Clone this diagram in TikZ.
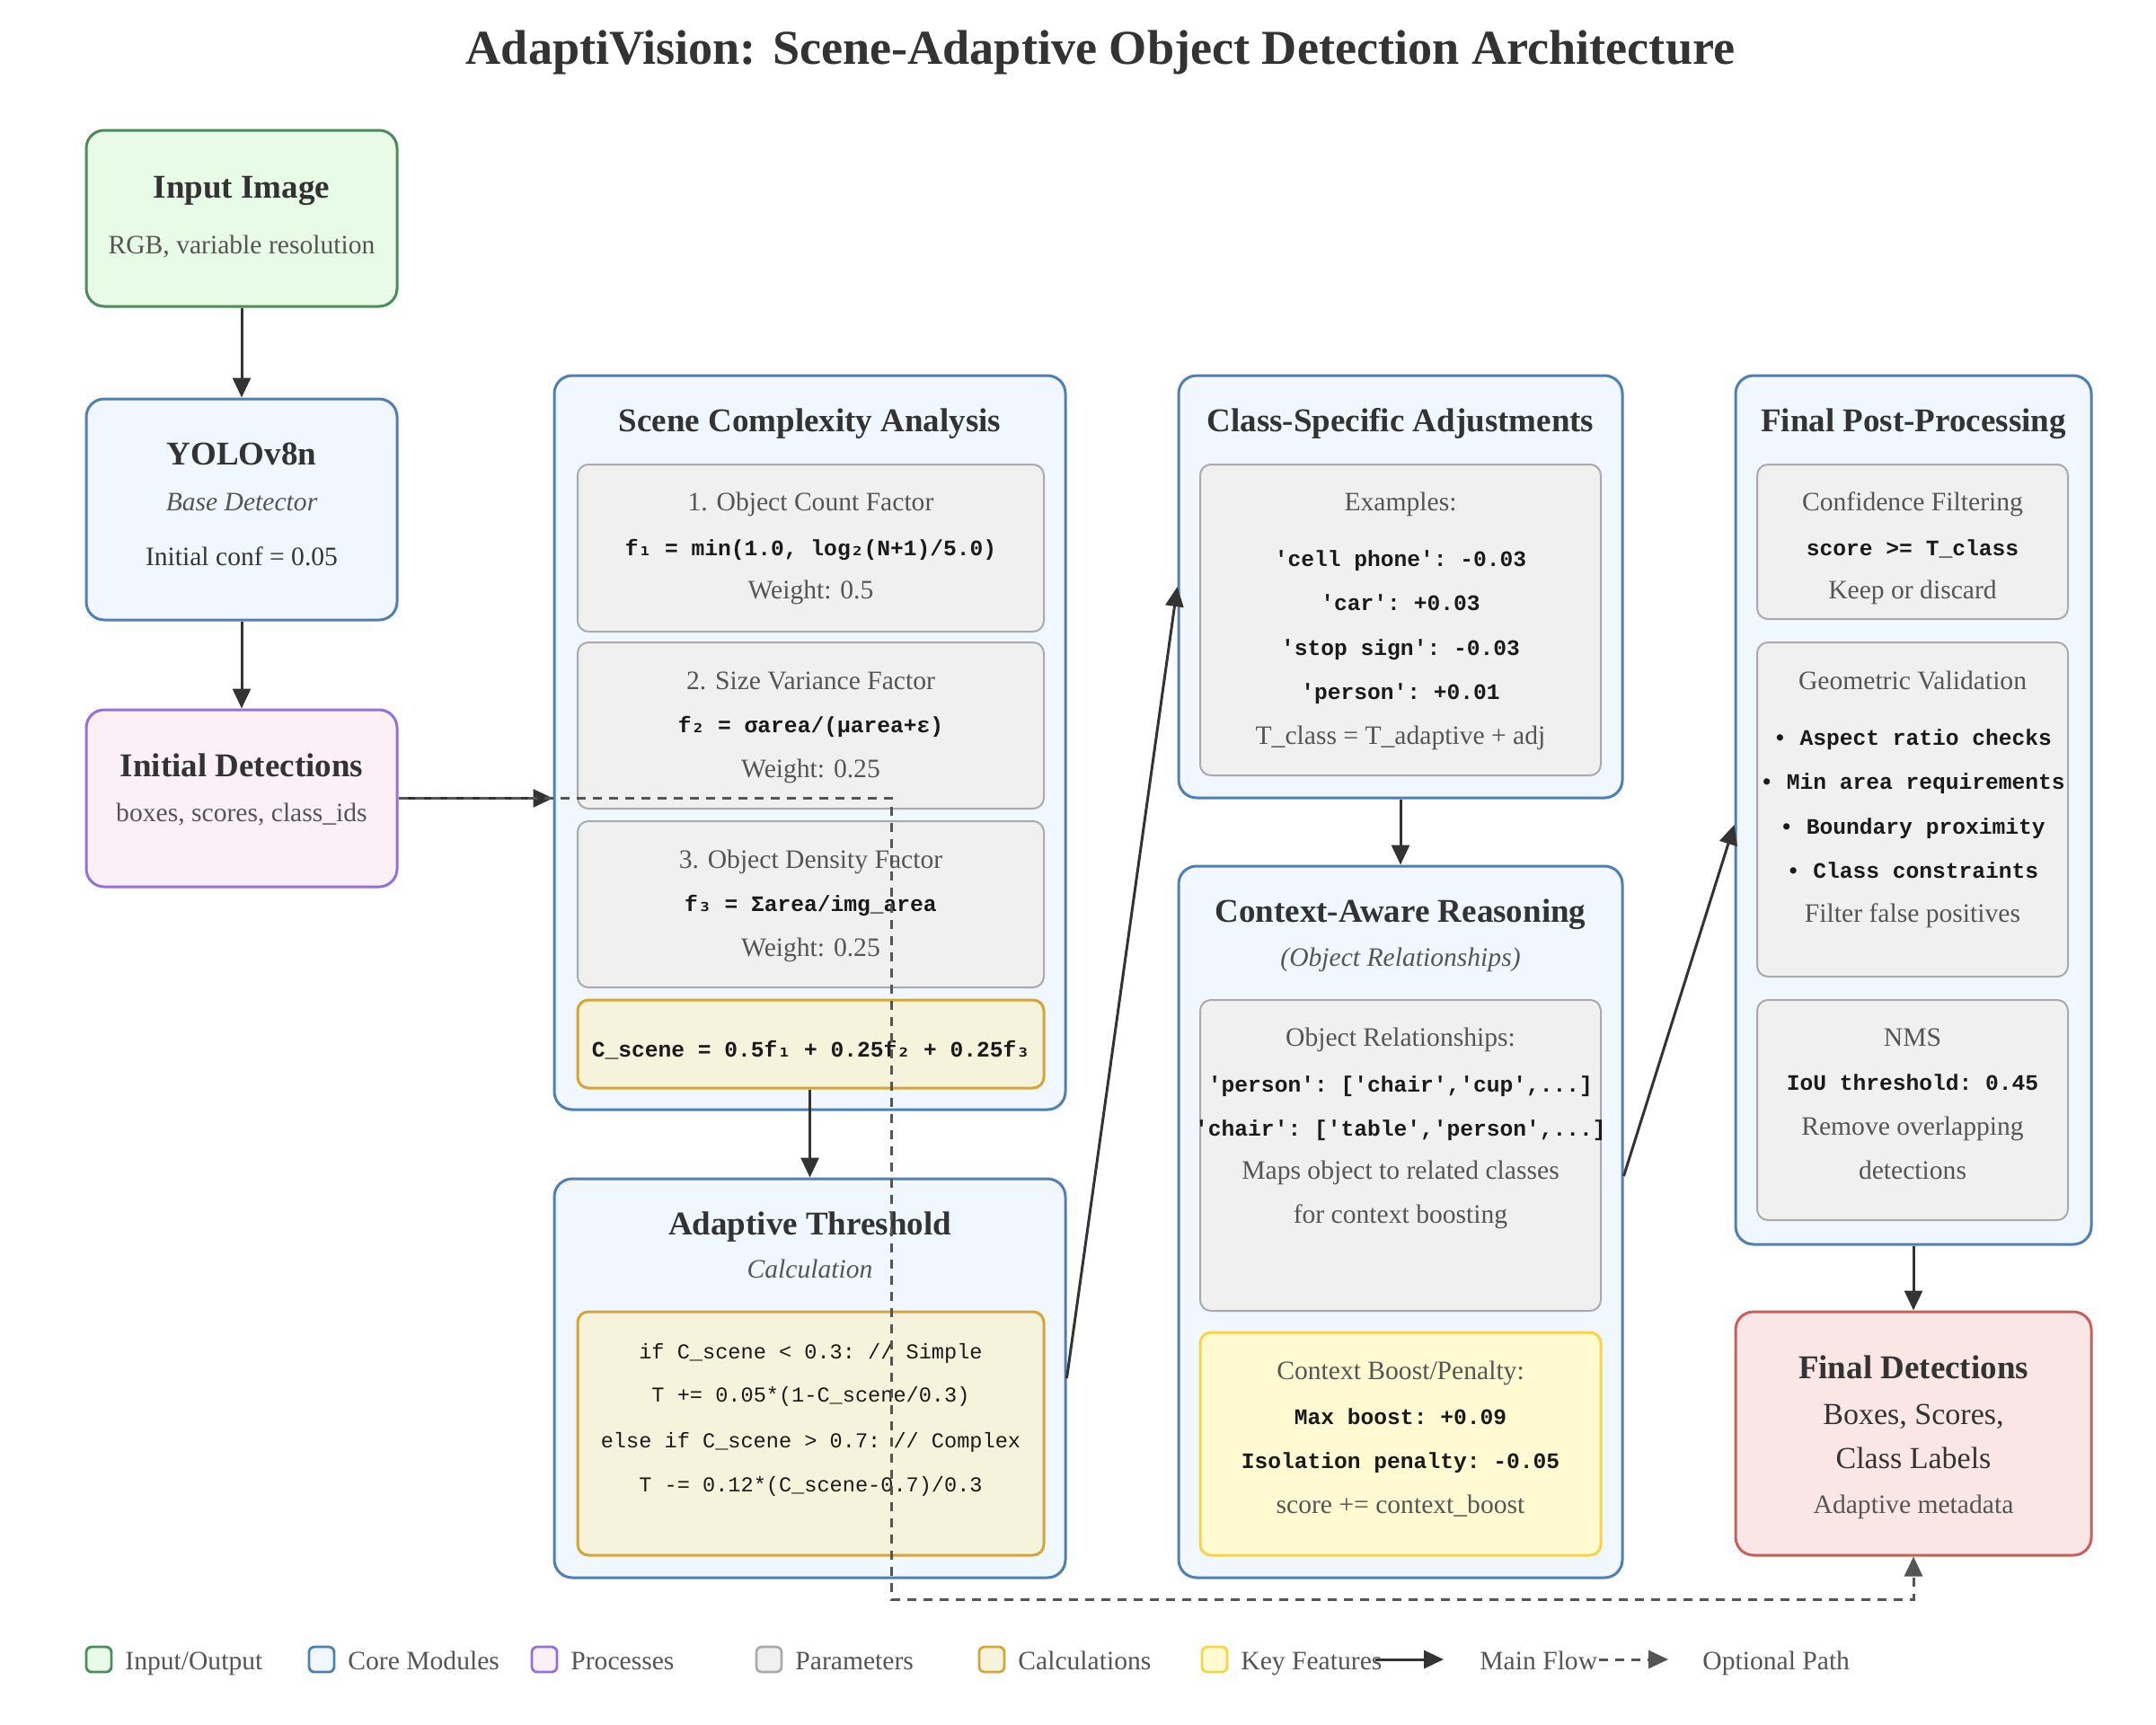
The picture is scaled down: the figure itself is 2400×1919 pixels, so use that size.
\documentclass[tikz,border=0pt]{standalone}
\usepackage{fontspec}
\setmainfont{Liberation Serif}
\setmonofont{Liberation Mono}
\newfontfamily\subfont{DejaVu Sans Mono}
\usetikzlibrary{arrows.meta,calc}
\definecolor{txt}{HTML}{333333}
\definecolor{gtxt}{HTML}{555555}
\definecolor{codec}{HTML}{1A1A1A}
\definecolor{ioB}{HTML}{4A8C5C}\definecolor{ioF}{HTML}{E8FBE6}
\definecolor{coreB}{HTML}{4F7FB5}\definecolor{coreF}{HTML}{F0F7FF}
\definecolor{procB}{HTML}{9370DB}\definecolor{procF}{HTML}{FBF0F5}
\definecolor{parB}{HTML}{AAAAAA}\definecolor{parF}{HTML}{F0F0F0}
\definecolor{calcB}{HTML}{D4A537}\definecolor{calcF}{HTML}{F5F3DC}
\definecolor{keyB}{HTML}{F8D546}\definecolor{keyF}{HTML}{FFFAD2}
\definecolor{outB}{HTML}{C8605A}\definecolor{outF}{HTML}{FBE6E6}
\newcommand{\subone}{{\subfont ₁}}
\newcommand{\subtwo}{{\subfont ₂}}
\newcommand{\subthree}{{\subfont ₃}}
\tikzset{
  box/.style={draw, rounded corners=10pt, line width=1.5pt, inner sep=0pt},
  ibox/.style={draw, rounded corners=6pt, line width=1pt, inner sep=0pt},
  io/.style={box, draw=ioB, fill=ioF},
  core/.style={box, draw=coreB, fill=coreF},
  proc/.style={box, draw=procB, fill=procF},
  parbox/.style={ibox, draw=parB, fill=parF},
  calcbox/.style={ibox, draw=calcB, fill=calcF, line width=1.5pt},
  keybox/.style={ibox, draw=keyB, fill=keyF, line width=1.5pt},
  outbox/.style={box, draw=outB, fill=outF},
  lsq/.style={draw, rounded corners=3pt, line width=1.4pt, minimum width=14pt, minimum height=14pt, inner sep=0pt},
  ttl/.style={font=\fontsize{18.5}{22}\selectfont\bfseries, text=txt, inner sep=0pt, text height=13pt, text depth=4pt, yshift=-2pt},
  tx/.style={font=\fontsize{14.8}{18}\selectfont, text=gtxt, inner sep=0pt, text height=10.5pt, text depth=3.3pt, yshift=-2pt},
  dtx/.style={tx, text=txt!90!gtxt},
  itx/.style={tx, font=\fontsize{14.8}{18}\selectfont\itshape},
  code/.style={font=\fontsize{12.3}{15}\selectfont\ttfamily\bfseries, text=codec, inner sep=0pt, text height=9pt, text depth=3pt, yshift=-2pt},
  rcode/.style={code, font=\fontsize{11.8}{15}\selectfont\ttfamily},
  bigtx/.style={font=\fontsize{17}{20}\selectfont, text=txt, inner sep=0pt, text height=12pt, text depth=4pt, yshift=-2pt},
  flow/.style={draw=txt, line width=1.5pt, -{Triangle[length=11pt,width=10pt]}},
  optflow/.style={draw=gtxt, line width=1.5pt, dash pattern=on 5pt off 4pt, -{Triangle[length=11pt,width=10pt]}},
}
\begin{document}
\begin{tikzpicture}[x=0.5pt,y=-0.5pt]
\useasboundingbox (0,0) rectangle (2400,1919);
\fill[white] (0,0) rectangle (2400,1919);

% title
\node[font=\fontsize{27.1}{31}\selectfont\bfseries, text=txt, inner sep=0pt] (title) at (1225,58) {AdaptiVision: Scene-Adaptive Object Detection Architecture};

% left column
\node[io, minimum width=173pt, minimum height=98pt] (inp) at (269,243) {};
\node[ttl] (inpT) at (269,207) {Input Image};
\node[tx] (inpS) at (269,271) {RGB, variable resolution};

\node[core, minimum width=173pt, minimum height=123pt] (yolo) at (269,567) {};
\node[ttl] (yoloT) at (269,504) {YOLOv8n};
\node[itx] (yoloS) at (269,557) {Base Detector};
\node[dtx] (yoloC) at (269,618) {Initial conf = 0.05};

\node[proc, minimum width=173pt, minimum height=98.5pt] (init) at (269,888.5) {};
\node[ttl] (initT) at (269,851) {Initial Detections};
\node[tx] (initS) at (269,903) {boxes, scores, class\_ids};

% scene complexity
\node[core, minimum width=284.5pt, minimum height=408.5pt] (scene) at (901.5,826.5) {};
\node[ttl] (sceneT) at (901.5,467) {Scene Complexity Analysis};
\node[parbox, minimum width=259.5pt, minimum height=93pt] (s1) at (902.5,610) {};
\node[tx] (s1a) at (902.5,557) {1. Object Count Factor};
\node[code] (s1b) at (902.5,608) {f\subone{} = min(1.0, log\subtwo(N+1)/5.0)};
\node[tx] (s1c) at (902.5,655) {Weight: 0.5};
\node[parbox, minimum width=259.5pt, minimum height=92.5pt] (s2) at (902.5,807.5) {};
\node[tx] (s2a) at (902.5,756) {2. Size Variance Factor};
\node[code] (s2b) at (902.5,805) {f\subtwo{} = σarea/(μarea+ε)};
\node[tx] (s2c) at (902.5,854) {Weight: 0.25};
\node[parbox, minimum width=259.5pt, minimum height=92.5pt] (s3) at (902.5,1006.5) {};
\node[tx] (s3a) at (902.5,955) {3. Object Density Factor};
\node[code] (s3b) at (902.5,1004) {f\subthree{} = Σarea/img\_area};
\node[tx] (s3c) at (902.5,1053) {Weight: 0.25};
\node[calcbox, minimum width=259.5pt, minimum height=49pt] (scalc) at (902.5,1162) {};
\node[code] (scalcT) at (902.5,1166) {C\_scene = 0.5f\subone{} + 0.25f\subtwo{} + 0.25f\subthree};

% adaptive threshold
\node[core, minimum width=284.5pt, minimum height=222pt] (thr) at (901.5,1534) {};
\node[ttl] (thrT) at (901.5,1361) {Adaptive Threshold};
\node[itx] (thrS) at (901.5,1411) {Calculation};
\node[calcbox, minimum width=259.5pt, minimum height=135.5pt] (tcalc) at (902.5,1595.5) {};
\node[rcode] (t1) at (902.5,1502) {if C\_scene < 0.3: // Simple};
\node[rcode] (t2) at (902.5,1550) {T += 0.05*(1-C\_scene/0.3)};
\node[rcode] (t3) at (902.5,1601) {else if C\_scene > 0.7: // Complex};
\node[rcode] (t4) at (902.5,1650) {T -= 0.12*(C\_scene-0.7)/0.3};

% class-specific
\node[core, minimum width=247pt, minimum height=235pt] (cls) at (1559,653) {};
\node[ttl] (clsT) at (1559,467) {Class-Specific Adjustments};
\node[parbox, minimum width=223pt, minimum height=173pt] (clsin) at (1559,690) {};
\node[tx] (c0) at (1559,557) {Examples:};
\node[code] (c1) at (1559,620) {'cell phone': -0.03};
\node[code] (c2) at (1559,669) {'car': +0.03};
\node[code] (c3) at (1559,719) {'stop sign': -0.03};
\node[code] (c4) at (1559,768) {'person': +0.01};
\node[tx] (c5) at (1559,817) {T\_class = T\_adaptive + adj};

% context-aware
\node[core, minimum width=247pt, minimum height=396pt] (ctx) at (1559,1360) {};
\node[ttl] (ctxT) at (1559,1013) {Context-Aware Reasoning};
\node[itx] (ctxS) at (1559,1064) {(Object Relationships)};
\node[parbox, minimum width=223pt, minimum height=173pt] (ctxg) at (1559,1286) {};
\node[tx] (g0) at (1559,1153) {Object Relationships:};
\node[code] (g1) at (1559,1205) {'person': ['chair','cup',...]};
\node[code] (g2) at (1559,1254) {'chair': ['table','person',...]};
\node[tx] (g3) at (1559,1301) {Maps object to related classes};
\node[tx] (g4) at (1559,1350) {for context boosting};
\node[keybox, minimum width=223pt, minimum height=124pt] (ctxy) at (1559,1607) {};
\node[tx] (y0) at (1559,1524) {Context Boost/Penalty:};
\node[code] (y1) at (1559,1575) {Max boost: +0.09};
\node[code] (y2) at (1559,1624) {Isolation penalty: -0.05};
\node[tx] (y3) at (1559,1673) {score += context\_boost};

% final post-processing
\node[core, minimum width=198pt, minimum height=483.5pt] (fpp) at (2130,901.5) {};
\node[ttl] (fppT) at (2130,467) {Final Post-Processing};
\node[parbox, minimum width=173pt, minimum height=86pt] (conf) at (2129,603) {};
\node[tx] (f0) at (2129,557) {Confidence Filtering};
\node[code] (f1) at (2129,608) {score >= T\_class};
\node[tx] (f2) at (2129,655) {Keep or discard};
\node[parbox, minimum width=173pt, minimum height=186pt] (geo) at (2129,901) {};
\node[tx] (e0) at (2129,756) {Geometric Validation};
\node[code] (e1) at (2129,819) {• Aspect ratio checks};
\node[code] (e2) at (2129,868) {• Min area requirements};
\node[code] (e3) at (2129,918) {• Boundary proximity};
\node[code] (e4) at (2129,967) {• Class constraints};
\node[tx] (e5) at (2129,1015) {Filter false positives};
\node[parbox, minimum width=173pt, minimum height=122.5pt] (nms) at (2129,1235.5) {};
\node[tx] (n0) at (2129,1153) {NMS};
\node[code] (n1) at (2129,1203) {IoU threshold: 0.45};
\node[tx] (n2) at (2129,1252) {Remove overlapping};
\node[tx] (n3) at (2129,1301) {detections};

% final detections
\node[outbox, minimum width=198pt, minimum height=135.5pt] (fin) at (2130,1595.5) {};
\node[ttl] (finT) at (2130,1521) {Final Detections};
\node[bigtx] (fin1) at (2130,1573) {Boxes, Scores,};
\node[bigtx] (fin2) at (2130,1622) {Class Labels};
\node[tx] (fin3) at (2130,1673) {Adaptive metadata};

% connectors
\draw[flow] (inp.south) -- (yolo.north);
\draw[flow] (yolo.south) -- (init.north);
\draw[flow] (init.east) -- (scene.west |- init.east);
\draw[flow] (scalc.south -| thr.north) -- (thr.north);
\draw[flow] (thr.east) -- (cls.west);
\draw[flow] (cls.south) -- (ctx.north);
\draw[flow] ([yshift=25.5pt]ctx.east) -- ([yshift=-8.25pt]fpp.west);
\draw[flow] (fpp.south) -- (fin.north);
\coordinate (d1) at (992,888.5);
\coordinate (d2) at (992,1780);
\coordinate (d3) at (2130,1780);
\draw[optflow] (init.east) -- (d1) -- (d2) -- (d3) -- (fin.south);

% legend
\node[lsq, draw=ioB, fill=ioF] (l1) at (110,1847) {};
\node[tx, anchor=west] (l1t) at (139,1847) {Input/Output};
\node[lsq, draw=coreB, fill=coreF] (l2) at (358,1847) {};
\node[tx, anchor=west] (l2t) at (387,1847) {Core Modules};
\node[lsq, draw=procB, fill=procF] (l3) at (606,1847) {};
\node[tx, anchor=west] (l3t) at (635,1847) {Processes};
\node[lsq, draw=parB, fill=parF] (l4) at (856,1847) {};
\node[tx, anchor=west] (l4t) at (885,1847) {Parameters};
\node[lsq, draw=calcB, fill=calcF] (l5) at (1104,1847) {};
\node[tx, anchor=west] (l5t) at (1133,1847) {Calculations};
\node[lsq, draw=keyB, fill=keyF] (l6) at (1352,1847) {};
\node[tx, anchor=west] (l6t) at (1381,1847) {Key Features};
\coordinate (lm1) at (1531,1847);
\coordinate (lm2) at (1607,1847);
\draw[flow] (lm1) -- (lm2);
\node[tx, anchor=west] (l7t) at (1647,1847) {Main Flow};
\coordinate (lo1) at (1780,1847);
\coordinate (lo2) at (1857,1847);
\draw[optflow] (lo1) -- (lo2);
\node[tx, anchor=west] (l8t) at (1895,1847) {Optional Path};
\end{tikzpicture}
\end{document}
